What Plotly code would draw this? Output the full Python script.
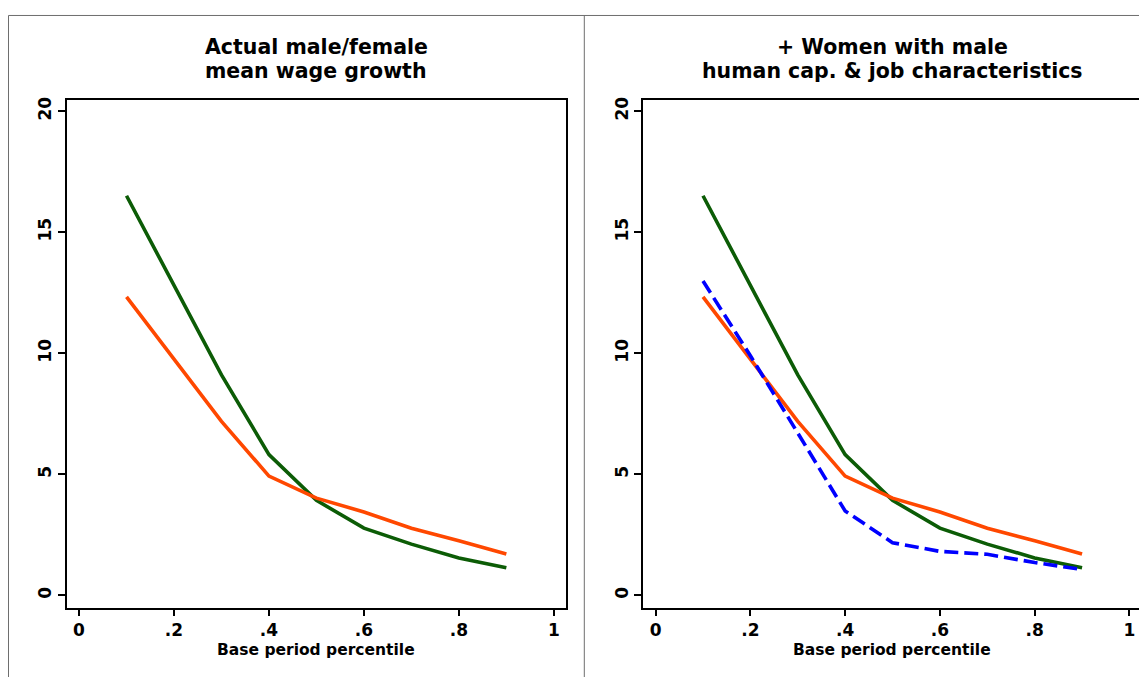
import plotly.graph_objects as go

# ---- data ----
pct = [0.1, 0.2, 0.3, 0.4, 0.5, 0.6, 0.7, 0.8, 0.9]
men = [16.51, 12.82, 9.11, 5.82, 3.93, 2.78, 2.12, 1.55, 1.14]
women = [12.33, 9.76, 7.19, 4.93, 4.02, 3.45, 2.78, 2.26, 1.71]
women_male_chars = [12.99, 9.90, 6.71, 3.49, 2.18, 1.82, 1.70, 1.36, 1.07]

xtick_vals = [0, 0.2, 0.4, 0.6, 0.8, 1]
xtick_text = ["0", ".2", ".4", ".6", ".8", "1"]
ytick_vals = [0, 5, 10, 15, 20]
ytick_text = ["0", "5", "10", "15", "20"]

left_title = ["Actual male/female", "mean wage growth"]
right_title = ["+ Women with male", "human cap. & job characteristics"]
x_title = "Base period percentile"

# page has an 8px body margin; size the figure to fill the rest of the window
OFF = 8
W, H = 1147 - OFF, 677 - OFF
GREEN = "rgb(12,92,6)"
ORANGE = "rgb(255,72,0)"
BLUE = "rgb(0,0,255)"
FONT = "DejaVu Sans"


def px(x):
    return (x - OFF) / W


def py(y):
    return 1 - (y - OFF) / H


fig = go.Figure()

for ax in ["", "2"]:
    fig.add_trace(go.Scatter(x=pct, y=men, mode="lines", xaxis="x" + ax, yaxis="y" + ax,
                             line=dict(color=GREEN, width=3.6), showlegend=False))
    fig.add_trace(go.Scatter(x=pct, y=women, mode="lines", xaxis="x" + ax, yaxis="y" + ax,
                             line=dict(color=ORANGE, width=3.6), showlegend=False))
fig.add_trace(go.Scatter(x=pct, y=women_male_chars, mode="lines", xaxis="x2", yaxis="y2",
                         line=dict(color=BLUE, width=3.6, dash="14px,6px"), showlegend=False))

tickfont = dict(family=FONT, size=17, color="black", weight="bold")
common_x = dict(range=[-0.026, 1.025], tickvals=xtick_vals, ticktext=xtick_text,
                showline=True, mirror=True, linecolor="black", linewidth=2,
                ticks="outside", ticklen=6, tickwidth=2, tickcolor="black",
                showgrid=False, zeroline=False, tickfont=tickfont)
common_y = dict(range=[-0.51, 20.46], tickvals=ytick_vals, ticktext=ytick_text,
                showline=True, mirror=True, linecolor="black", linewidth=2,
                ticks="outside", ticklen=7, tickwidth=2, tickcolor="black",
                showgrid=False, zeroline=False, tickfont=tickfont, tickangle=-90)

ydom = [py(607.5), py(97.5)]
fig.update_layout(
    width=W, height=H,
    margin=dict(l=0, r=0, t=0, b=0),
    paper_bgcolor="white", plot_bgcolor="white",
    xaxis=dict(domain=[px(66.7), px(565.7)], anchor="y", **common_x),
    yaxis=dict(domain=ydom, anchor="x", **common_y),
    xaxis2=dict(domain=[px(643.3), px(1141.3)], anchor="y2", **common_x),
    yaxis2=dict(domain=ydom, anchor="x2", **common_y),
)

titlefont = dict(family=FONT, size=20.5, color="black", weight="bold")
ann = []
for cx, lines in [(316.2, left_title), (892.3, right_title)]:
    ann.append(dict(x=px(cx), y=py(44.4), xref="paper", yref="paper", text=lines[0],
                    showarrow=False, xanchor="center", yanchor="middle", font=titlefont))
    ann.append(dict(x=px(cx), y=py(68.4), xref="paper", yref="paper", text=lines[1],
                    showarrow=False, xanchor="center", yanchor="middle", font=titlefont))
    ann.append(dict(x=px(cx), y=py(649.6), xref="paper", yref="paper", text=x_title,
                    showarrow=False, xanchor="center", yanchor="middle",
                    font=dict(family=FONT, size=15.5, color="black", weight="bold")))
fig.update_layout(annotations=ann)

# outer panel frames (Stata graph regions)
gray = dict(color="rgb(110,110,110)", width=1)
fig.add_shape(type="line", xref="paper", yref="paper", x0=px(8.5), x1=1, y0=py(12.5), y1=py(12.5), line=gray)
fig.add_shape(type="line", xref="paper", yref="paper", x0=px(8.5), x1=px(8.5), y0=py(12.5), y1=0, line=gray)
fig.add_shape(type="line", xref="paper", yref="paper", x0=px(584.3), x1=px(584.3), y0=py(12.5), y1=0, line=gray)

fig.write_html("out.html")
